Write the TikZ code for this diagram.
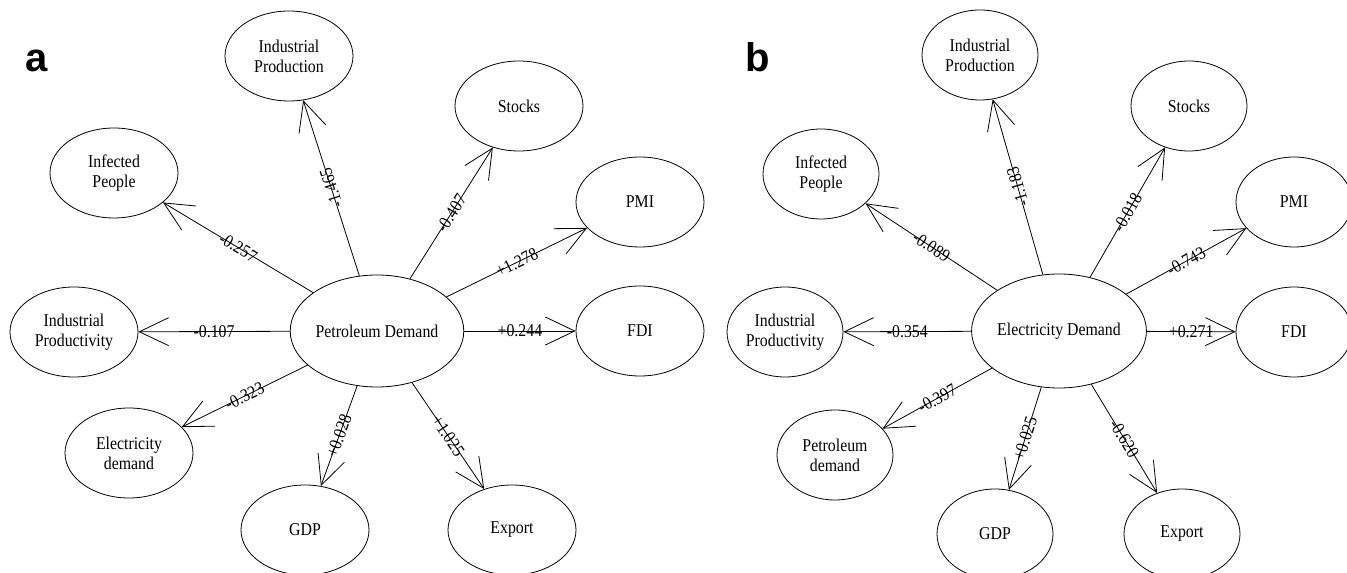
\documentclass[tikz,border=0pt]{standalone}
\usepackage{fontspec}
\setmainfont{Liberation Serif}[FakeStretch=0.88]
\newfontfamily\panelfont{Liberation Sans}
\usetikzlibrary{shapes.geometric,arrows.meta}
\tikzset{
  var/.style={draw, ellipse, line width=0.6pt, inner sep=0pt, minimum width=96pt, minimum height=67.5pt, align=center, font=\fontsize{13.5pt}{15pt}\selectfont},
  varb/.style={var, minimum width=87pt},
  hub/.style={var, minimum width=118.5pt, minimum height=84pt},
  hubb/.style={var, minimum width=108pt, minimum height=85.5pt},
  link/.style={line width=0.6pt, -{Straight Barb[length=22pt,width=21pt,line width=0.6pt]}},
  coef/.style={midway, sloped, inner sep=0pt, font=\fontsize{13.5pt}{15pt}\selectfont},
  panel/.style={font=\panelfont\bfseries\fontsize{30pt}{31pt}\selectfont, inner sep=0pt, anchor=base}
}
\begin{document}
\begin{tikzpicture}[x=0.75pt, y=-0.75pt]
\useasboundingbox (0,0) rectangle (1347,573);
% ---------- panel a ----------
\node[panel] (la) at (37,72) {a};
\node[hub] (pd) at (377,331) {Petroleum Demand};
\node[var] (ipn) at (289,56) {Industrial\\Production};
\node[var] (stk) at (519,106) {Stocks};
\node[var] (inf) at (114,173) {Infected\\People};
\node[var] (pmi) at (640,202) {PMI};
\node[var] (ipy) at (74,332) {Industrial\\Productivity};
\node[var] (fdi) at (640,331) {FDI};
\node[var] (ele) at (129,453) {Electricity\\demand};
\node[var] (gdp) at (305,530) {GDP};
\node[var] (exp) at (512,530) {Export};
\draw[link] (pd) -- node[coef, allow upside down]{-1.465} (ipn);
\draw[link] (pd) -- node[coef]{-0.407} (stk);
\draw[link] (pd) -- node[coef]{-0.257} (inf);
\draw[link] (pd) -- node[coef]{+1.278} (pmi);
\draw[link] (pd) -- node[coef]{-0.107} (ipy);
\draw[link] (pd) -- node[coef]{+0.244} (fdi);
\draw[link] (pd) -- node[coef]{-0.323} (ele);
\draw[link] (pd) -- node[coef]{+0.028} (gdp);
\draw[link] (pd) -- node[coef]{+1.025} (exp);
% ---------- panel b ----------
\node[panel] (lb) at (758,72) {b};
\node[hubb] (ed) at (1059,331) {Electricity Demand};
\node[varb] (ipn2) at (980,55) {Industrial\\Production};
\node[varb] (stk2) at (1189,106) {Stocks};
\node[varb] (inf2) at (821,174) {Infected\\People};
\node[varb] (pmi2) at (1294,202) {PMI};
\node[varb] (ipy2) at (785,332) {Industrial\\Productivity};
\node[varb] (fdi2) at (1294,332) {FDI};
\node[varb] (pet2) at (835,455) {Petroleum\\demand};
\node[varb] (gdp2) at (995,534) {GDP};
\node[varb] (exp2) at (1182,534) {Export};
\draw[link] (ed) -- node[coef, allow upside down]{-1.183} (ipn2);
\draw[link] (ed) -- node[coef]{-0.018} (stk2);
\draw[link] (ed) -- node[coef]{-0.089} (inf2);
\draw[link] (ed) -- node[coef]{-0.743} (pmi2);
\draw[link] (ed) -- node[coef]{-0.354} (ipy2);
\draw[link] (ed) -- node[coef]{+0.271} (fdi2);
\draw[link] (ed) -- node[coef]{-0.397} (pet2);
\draw[link] (ed) -- node[coef]{+0.025} (gdp2);
\draw[link] (ed) -- node[coef]{-0.620} (exp2);
\end{tikzpicture}
\end{document}
